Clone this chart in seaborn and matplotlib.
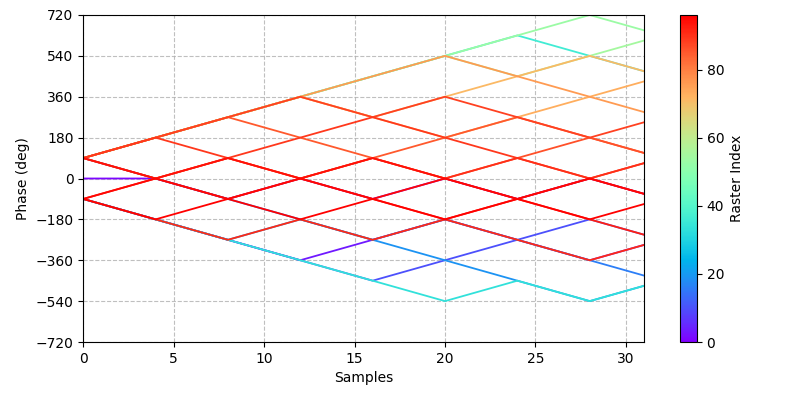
import numpy as np
import pandas as pd
import matplotlib
matplotlib.use("Agg")
import matplotlib.pyplot as plt
import seaborn as sns

# Sample positions of the phase break points (symbol boundaries + last sample)
sample_breaks = [0, 4, 8, 12, 16, 20, 24, 28, 31]

# Raster index of each visible trajectory
raster_ids = [1, 3, 10, 16, 19, 33, 36, 53, 55, 71, 73, 76, 85, 86, 88, 89, 90, 91, 92, 94, 95, 96]

# Unwrapped phase (deg) of each raster at the break points
phase_paths = [
    [0, 0, -90, 0, -90, 0, -90, 0, -67.5],
    [-90, -180, -270, -360, -270, -180, -270, -360, -292.5],
    [-90, -180, -270, -360, -450, -360, -270, -180, -247.5],
    [90, 0, -90, -180, -270, -180, -270, -360, -427.5],
    [-90, -180, -270, -180, -270, -360, -450, -540, -472.5],
    [-90, -180, -270, -360, -450, -540, -450, -540, -472.5],
    [90, 180, 270, 360, 450, 540, 630, 540, 472.5],
    [90, 180, 270, 360, 450, 540, 630, 720, 652.5],
    [90, 180, 270, 360, 450, 540, 450, 540, 607.5],
    [90, 180, 270, 360, 270, 360, 450, 540, 472.5],
    [90, 180, 270, 360, 270, 180, 270, 360, 427.5],
    [90, 180, 270, 360, 450, 540, 450, 360, 292.5],
    [90, 180, 270, 180, 90, 180, 270, 180, 112.5],
    [90, 0, 90, 0, 90, 0, 90, 180, 112.5],
    [90, 180, 270, 360, 270, 360, 270, 180, 247.5],
    [90, 180, 90, 180, 270, 180, 90, 0, 67.5],
    [90, 0, 90, 0, 90, 0, 90, 0, 67.5],
    [-90, -180, -270, -180, -270, -180, -270, -360, -292.5],
    [-90, 0, -90, 0, -90, -180, -90, -180, -247.5],
    [90, 0, 90, 0, 90, 0, -90, 0, -67.5],
    [-90, 0, -90, 0, -90, 0, -90, 0, -67.5],
    [-90, -180, -90, -180, -90, -180, -90, -180, -112.5],
]

y_ticks = [-720, -540, -360, -180, 0, 180, 360, 540, 720]
cbar_ticks = [0, 20, 40, 60, 80]
index_max = 96

rows = []
for rid, path in zip(raster_ids, phase_paths):
    for s, p in zip(sample_breaks, path):
        rows.append({"Samples": s, "Phase": p, "Raster": rid})
df = pd.DataFrame(rows)

fig = plt.figure(figsize=(8, 4), dpi=100)
ax = fig.add_axes([0.104, 0.145, 0.701, 0.8175])
cax = fig.add_axes([0.85, 0.145, 0.021, 0.8175])

sns.lineplot(data=df, x="Samples", y="Phase", hue="Raster", units="Raster",
             estimator=None, palette="rainbow", hue_norm=(0, index_max),
             legend=False, linewidth=1.3, ax=ax, sort=False)

ax.set_xlim(0, 31)
ax.set_ylim(-720, 720)
ax.set_yticks(y_ticks)
ax.set_xlabel("Samples")
ax.set_ylabel("Phase (deg)")
ax.grid(True, linestyle="--", color="#b0b0b0", alpha=0.8, linewidth=0.8)
ax.set_axisbelow(True)

norm = matplotlib.colors.Normalize(vmin=0, vmax=index_max)
sm = matplotlib.cm.ScalarMappable(norm=norm, cmap="rainbow")
cb = fig.colorbar(sm, cax=cax, ticks=cbar_ticks)
cb.set_label("Raster Index")

fig.savefig("out.png", dpi=100)
